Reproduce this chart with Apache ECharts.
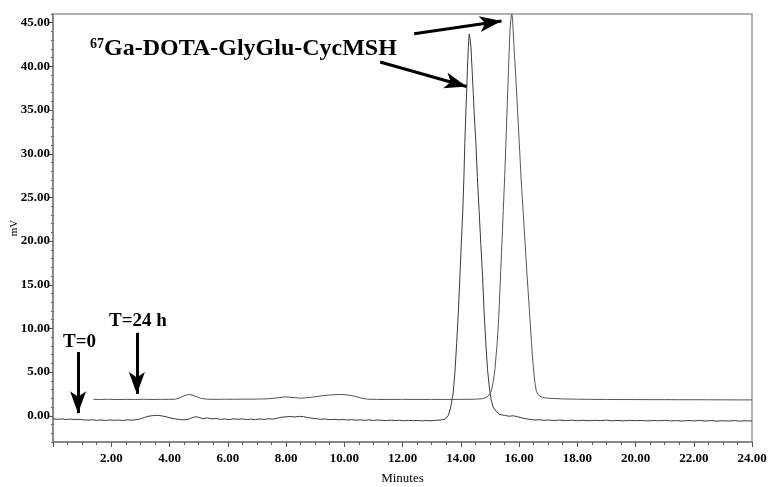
<!DOCTYPE html>
<html>
<head>
<meta charset="utf-8">
<script src="https://cdn.jsdelivr.net/npm/echarts@6/dist/echarts.min.js"></script>
<style>
html,body{margin:0;padding:0;background:#fff;}
#chart{width:769px;height:487px;}
</style>
</head>
<body>
<div id="chart"></div>
<script>
// ---- Data ----
var t0Trace = [
[0.00,-0.35],[0.15,-0.40],[0.30,-0.36],[0.45,-0.42],[0.60,-0.38],[0.75,-0.44],[0.90,-0.40],[1.05,-0.47],[1.20,-0.50],[1.35,-0.45],
[1.50,-0.52],[1.65,-0.48],[1.80,-0.53],[1.95,-0.47],[2.10,-0.52],[2.25,-0.49],[2.40,-0.54],[2.55,-0.46],[2.70,-0.50],[2.85,-0.45],
[3.00,-0.36],[3.15,-0.18],[3.30,-0.04],[3.45,0.03],[3.60,0.05],[3.75,-0.02],[3.90,-0.12],[4.05,-0.26],[4.20,-0.36],[4.35,-0.44],
[4.50,-0.46],[4.65,-0.40],[4.80,-0.20],[4.90,-0.10],[5.00,-0.18],[5.15,-0.32],[5.30,-0.24],[5.45,-0.36],[5.60,-0.30],[5.75,-0.42],
[5.90,-0.36],[6.05,-0.44],[6.20,-0.34],[6.35,-0.40],[6.50,-0.35],[6.65,-0.43],[6.80,-0.38],[6.95,-0.44],[7.10,-0.36],[7.25,-0.41],
[7.40,-0.34],[7.55,-0.38],[7.70,-0.28],[7.85,-0.16],[8.00,-0.12],[8.15,-0.08],[8.30,-0.14],[8.45,-0.06],[8.60,-0.10],[8.75,-0.20],
[8.90,-0.28],[9.05,-0.34],[9.20,-0.40],[9.35,-0.37],[9.50,-0.44],[9.65,-0.40],[9.80,-0.46],[9.95,-0.42],[10.10,-0.48],[10.25,-0.44],
[10.40,-0.50],[10.55,-0.46],[10.70,-0.52],[10.85,-0.47],[11.00,-0.53],[11.15,-0.48],[11.30,-0.52],[11.45,-0.56],[11.60,-0.50],[11.75,-0.55],
[11.90,-0.51],[12.05,-0.57],[12.20,-0.52],[12.35,-0.56],[12.50,-0.53],[12.65,-0.58],[12.80,-0.54],[12.95,-0.57],[13.10,-0.53],[13.25,-0.50],
[13.40,-0.44],[13.50,-0.30],[13.58,0.10],[13.65,0.90],[13.74,2.6],[13.80,5.0],[13.86,8.3],[13.92,12.0],[13.97,15.9],[14.02,19.8],
[14.07,23.5],[14.11,27.5],[14.14,31.2],[14.17,34.2],[14.20,36.9],[14.23,39.8],[14.26,42.2],[14.29,43.7],[14.32,43.2],[14.35,42.2],
[14.39,39.6],[14.43,36.9],[14.47,34.1],[14.52,31.2],[14.57,27.4],[14.63,23.5],[14.69,19.6],[14.75,15.9],[14.80,12.0],[14.86,8.3],
[14.92,5.3],[14.98,3.3],[15.04,1.9],[15.11,1.0],[15.22,0.5],[15.34,0.15],[15.50,0.05],[15.65,-0.05],[15.80,0.00],[15.95,-0.10],
[16.10,-0.25],[16.25,-0.35],[16.40,-0.42],[16.55,-0.48],[16.70,-0.45],[16.85,-0.52],[17.00,-0.48],[17.20,-0.53],[17.40,-0.49],[17.60,-0.55],
[17.80,-0.50],[18.00,-0.56],[18.20,-0.51],[18.40,-0.57],[18.60,-0.52],[18.80,-0.55],[19.00,-0.50],[19.20,-0.57],[19.40,-0.53],[19.60,-0.58],
[19.80,-0.52],[20.00,-0.56],[20.20,-0.53],[20.40,-0.59],[20.60,-0.54],[20.80,-0.57],[21.00,-0.52],[21.20,-0.58],[21.40,-0.55],[21.60,-0.60],
[21.80,-0.54],[22.00,-0.58],[22.20,-0.53],[22.40,-0.60],[22.60,-0.55],[22.80,-0.61],[23.00,-0.56],[23.20,-0.60],[23.40,-0.55],[23.60,-0.61],
[23.80,-0.57],[24.00,-0.60]
];
var t24Trace = [
[1.39,1.88],[1.60,1.87],[1.90,1.89],[2.20,1.86],[2.50,1.88],[2.80,1.87],[3.10,1.89],[3.40,1.87],[3.70,1.88],[4.00,1.88],
[4.20,1.90],[4.35,2.05],[4.50,2.28],[4.65,2.45],[4.80,2.35],[4.95,2.15],[5.10,1.98],[5.30,1.90],[5.60,1.88],[5.90,1.90],
[6.20,1.89],[6.50,1.91],[6.80,1.90],[7.10,1.92],[7.40,1.95],[7.70,2.05],[7.97,2.17],[8.20,2.10],[8.50,2.02],[8.75,2.08],
[9.00,2.18],[9.30,2.32],[9.60,2.40],[9.86,2.45],[10.10,2.40],[10.35,2.25],[10.60,2.02],[10.80,1.90],[11.10,1.88],[11.50,1.87],
[12.00,1.88],[12.50,1.87],[13.00,1.88],[13.50,1.87],[14.00,1.88],[14.50,1.90],[14.75,1.96],[14.91,2.17],[15.00,2.50],[15.06,2.94],
[15.12,4.0],[15.17,5.2],[15.25,8.3],[15.30,11.0],[15.34,14.0],[15.40,18.7],[15.46,23.5],[15.51,27.5],[15.55,31.2],[15.59,35.0],
[15.63,38.8],[15.66,41.6],[15.69,44.1],[15.72,45.4],[15.75,46.0],[15.78,45.4],[15.80,44.1],[15.84,41.5],[15.89,38.8],[15.95,35.0],
[16.01,31.2],[16.07,27.3],[16.14,23.5],[16.21,19.7],[16.28,15.9],[16.36,12.0],[16.43,8.3],[16.49,5.6],[16.55,3.7],[16.60,2.75],
[16.68,2.35],[16.77,2.17],[16.90,2.05],[17.06,2.00],[17.50,1.93],[18.00,1.90],[18.50,1.88],[19.00,1.87],[19.50,1.86],[20.00,1.86],
[20.50,1.85],[21.00,1.85],[21.50,1.84],[22.00,1.84],[22.50,1.83],[23.00,1.83],[23.50,1.82],[24.00,1.82]
];
var yMajorTicks = [0,5,10,15,20,25,30,35,40,45];
var yMinorTicks = [-3,-2,-1,1,2,3,4,6,7,8,9,11,12,13,14,16,17,18,19,21,22,23,24,26,27,28,29,31,32,33,34,36,37,38,39,41,42,43,44,46];
var compoundName = 'Ga-DOTA-GlyGlu-CycMSH';
var isotope = '67';
var labelT0 = 'T=0';
var labelT24 = 'T=24 h';
// annotation arrows in data coordinates [x1,y1,x2,y2] (end = arrow tip)
var arrowT0 = [0.86, 7.3, 0.86, 0.3];
var arrowT24 = [2.88, 9.5, 2.88, 2.5];
var arrowPeak24 = [12.40, 43.75, 15.40, 45.2];
var arrowPeak0 = [11.23, 40.5, 14.20, 37.7];

var serif = '"Liberation Serif","Times New Roman",serif';
var chart = echarts.init(document.getElementById('chart'), null, {renderer:'canvas'});

function arrowItem(a){
  return [
    {coord:[a[0],a[1]], symbol:'none'},
    {coord:[a[2],a[3]], symbol:'arrow', symbolSize:[12,22]}
  ];
}

var option = {
  animation:false,
  backgroundColor:'#fff',
  grid:{left:53, right:17, top:14, bottom:45, containLabel:false, outerBoundsMode:'none',
        show:true, borderColor:'#9a9a9a', borderWidth:1.5, backgroundColor:'transparent'},
  xAxis:{
    type:'value', min:0, max:24, interval:2,
    name:'Minutes', nameLocation:'middle', nameGap:30, nameMoveOverlap:false,
    nameTextStyle:{fontFamily:serif, fontSize:13, color:'#000'},
    axisLine:{onZero:false, lineStyle:{color:'#8a8a8a', width:2}},
    axisTick:{show:true, length:5, lineStyle:{color:'#555'}},
    minorTick:{show:true, splitNumber:4, length:3, lineStyle:{color:'#555'}},
    splitLine:{show:false},
    axisLabel:{formatter:function(v){return v===0?'':v.toFixed(2);}, fontFamily:serif, fontWeight:'bold', fontSize:13, color:'#000', margin:10}
  },
  yAxis:[{
    type:'value', min:-3, max:46,
    name:'mV', nameLocation:'middle', nameGap:33, nameRotate:90, nameMoveOverlap:false,
    nameTextStyle:{fontFamily:serif, fontSize:11, color:'#000'},
    axisLine:{show:true, onZero:false, lineStyle:{color:'#8a8a8a', width:2}},
    axisTick:{show:true, length:4, customValues:yMajorTicks, lineStyle:{color:'#555'}},
    splitLine:{show:false},
    axisLabel:{customValues:yMajorTicks, formatter:function(v){return v.toFixed(2);}, fontFamily:serif, fontWeight:'bold', fontSize:13, color:'#000', margin:3}
  },{
    type:'value', min:-3, max:46, position:'left',
    axisLine:{show:false, onZero:false},
    axisTick:{show:true, length:2, customValues:yMinorTicks, lineStyle:{color:'#666'}},
    axisLabel:{show:false},
    splitLine:{show:false}
  }],
  series:[{
    type:'line', name:'T=0', data:t0Trace, showSymbol:false, symbol:'none',
    lineStyle:{color:'#3a3a3a', width:1}, silent:true,
    markLine:{
      silent:true, animation:false, label:{show:false},
      lineStyle:{color:'#000', width:3, type:'solid'},
      emphasis:{disabled:true},
      data:[arrowItem(arrowT0), arrowItem(arrowT24), arrowItem(arrowPeak24), arrowItem(arrowPeak0)]
    }
  },{
    type:'line', name:'T=24 h', data:t24Trace, showSymbol:false, symbol:'none',
    lineStyle:{color:'#555', width:1}, silent:true
  }],
  graphic:[
    {type:'text', left:90, top:37, style:{
      text:'{sup|'+isotope+'}{b|'+compoundName+'}',
      rich:{
        sup:{fontFamily:serif, fontWeight:'bold', fontSize:14, fill:'#000', verticalAlign:'top', lineHeight:24},
        b:{fontFamily:serif, fontWeight:'bold', fontSize:24, fill:'#000', lineHeight:24}
      }
    }},
    {type:'text', left:109, top:312, style:{text:labelT24, fontFamily:serif, fontWeight:'bold', fontSize:19, fill:'#000'}},
    {type:'text', left:63, top:333, style:{text:labelT0, fontFamily:serif, fontWeight:'bold', fontSize:19, fill:'#000'}}
  ]
};
chart.setOption(option);
</script>
</body>
</html>
